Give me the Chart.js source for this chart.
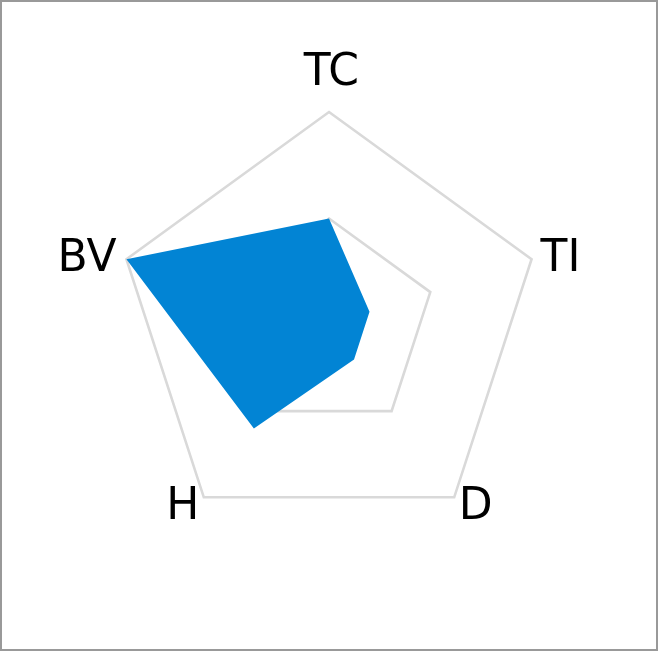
<!DOCTYPE html>
<html>
<head>
<meta charset="utf-8">
<script src="https://cdn.jsdelivr.net/npm/chart.js@4"></script>
<style>
  html, body { margin: 0; padding: 0; background: #fff; }
  #wrap { width: 658px; height: 651px; box-sizing: border-box; border: 2px solid #999; position: relative; }
  canvas { display: block; }
</style>
</head>
<body>
<div id="wrap"><canvas id="c"></canvas></div>
<script>
const categories = ["TC", "TI", "D", "H", "BV"];
const values = [5, 2, 2, 6, 10];
const scaleMax = 10;
const scaleStep = 5;

// Draws the category labels next to the scale's own outer vertices
const pointLabelPlugin = {
  id: 'pointLabelPlugin',
  afterDraw(chart) {
    const scale = chart.scales.r;
    const ctx = chart.ctx;
    ctx.save();
    ctx.font = '44px "DejaVu Sans"';
    ctx.fillStyle = '#000';
    ctx.textAlign = 'left';
    ctx.textBaseline = 'alphabetic';
    const n = scale._pointLabels.length;
    for (let i = 0; i < n; i++) {
      const text = scale._pointLabels[i];
      const v = scale.getPointPosition(i, scale.drawingArea);
      const m = ctx.measureText(text);
      const deg = Math.round((i * 360 / n));
      let x, y;
      if (deg === 0) {
        const inkCenter = v.x + 1;
        x = inkCenter - (m.actualBoundingBoxRight - m.actualBoundingBoxLeft) / 2;
        y = v.y - 27;
      } else if (deg < 90) {
        x = v.x + 8 + m.actualBoundingBoxLeft;
        y = v.y + 11.7;
      } else if (deg < 180) {
        x = v.x + 8.5 + m.actualBoundingBoxLeft;
        y = v.y + 21.6;
      } else if (deg < 270) {
        x = v.x - 8.6 - m.actualBoundingBoxRight;
        y = v.y + 21.6;
      } else {
        x = v.x - 10 - m.actualBoundingBoxRight;
        y = v.y + 11.7;
      }
      ctx.fillText(text, x, y);
    }
    ctx.restore();
  }
};

new Chart(document.getElementById('c'), {
  type: 'radar',
  data: {
    labels: categories,
    datasets: [{
      data: values,
      backgroundColor: '#0284d4',
      borderWidth: 0,
      pointRadius: 0,
      fill: true
    }]
  },
  options: {
    responsive: true,
    maintainAspectRatio: false,
    animation: false,
    plugins: { legend: { display: false }, tooltip: { enabled: false } },
    layout: { padding: 110 },
    scales: {
      r: {
        min: 0,
        max: scaleMax,
        ticks: { display: false, stepSize: scaleStep },
        angleLines: { display: false },
        grid: { color: '#d9d9d9', lineWidth: 2.6 },
        pointLabels: { display: false }
      }
    }
  },
  plugins: [pointLabelPlugin]
});
</script>
</body>
</html>
